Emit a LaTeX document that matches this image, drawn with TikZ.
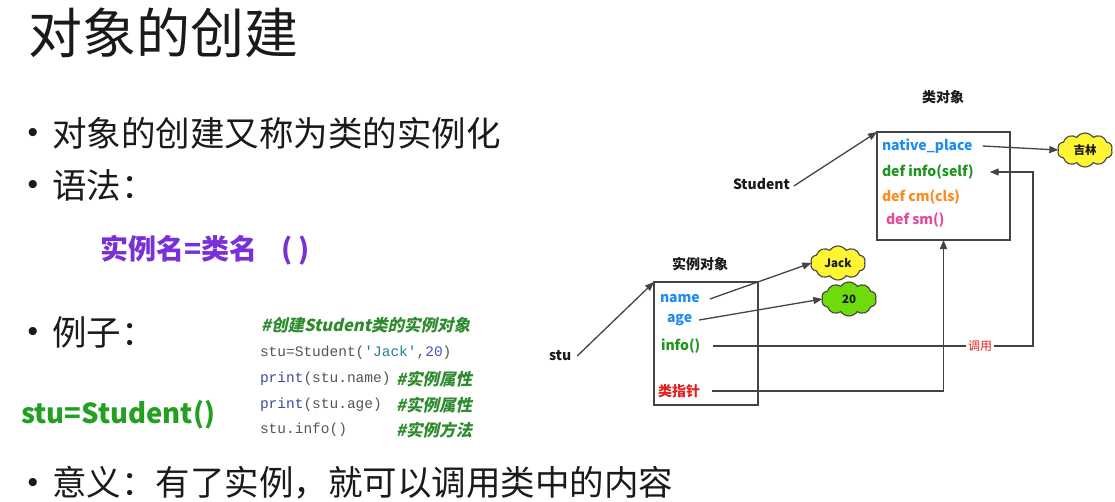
\documentclass[tikz,border=0pt]{standalone}
\usepackage{fontspec}
\setmainfont{Noto Sans CJK SC}
\newfontfamily\latinsans{Liberation Sans}
\newfontfamily\codefont{Liberation Mono}
\newfontfamily\cmtfont[FakeSlant=0.22]{Noto Sans CJK SC}
\usetikzlibrary{arrows.meta,shapes.symbols}
\definecolor{txt}{HTML}{1A1A1A}
\definecolor{purp}{HTML}{7A30D8}
\definecolor{grn}{HTML}{22A022}
\definecolor{cmtgreen}{HTML}{2E8B2E}
\definecolor{codegray}{HTML}{555555}
\definecolor{codeblue}{HTML}{3A4AA0}
\definecolor{codeteal}{HTML}{2A8090}
\definecolor{codenum}{HTML}{4A55B8}
\definecolor{dblue}{HTML}{1E8CF0}
\definecolor{dgreen}{HTML}{1C961C}
\definecolor{dorange}{HTML}{FF8A1E}
\definecolor{dpink}{HTML}{E8489A}
\definecolor{dred}{HTML}{E52020}
\definecolor{lin}{HTML}{444444}
\definecolor{cyel}{HTML}{FFF533}
\definecolor{cgrn}{HTML}{6EDC0A}
\begin{document}
\begin{tikzpicture}[x=1pt,y=-1pt,
  every node/.style={inner sep=0pt,outer sep=0pt},
  bul/.style={anchor=west,text=txt,font=\fontsize{34.5}{34.5}\selectfont},
  dot/.style={text=txt,font=\latinsans\fontsize{30}{30}\selectfont},
  code/.style={anchor=west,text=codegray,font=\codefont\fontsize{14.5}{14.5}\selectfont},
  cmt/.style={anchor=west,text=cmtgreen,font=\cmtfont\bfseries\fontsize{16.5}{16.5}\selectfont},
  dlab/.style={anchor=west,font=\bfseries\fontsize{14}{14}\selectfont},
  box/.style={draw=lin,line width=1.3pt,fill=white},
  arr/.style={draw=lin,line width=1.3pt,-{Triangle[length=9pt,width=7pt]}},
  cld/.style={cloud,cloud puffs=10,cloud puff arc=110,aspect=1.7,draw=lin,line width=1.1pt,
    minimum width=55pt,minimum height=34pt,font=\bfseries\fontsize{11.5}{11.5}\selectfont,text=txt}
]
\useasboundingbox[fill=white] (0,0) rectangle (1115,501);

% title
\node[anchor=west,text=txt,font=\fontsize{54}{54}\selectfont] (title) at (28,33) {对象的创建};

% bullets
\node[dot] (d1) at (33,135) {•};
\node[bul] (b1) at (52,133) {对象的创建又称为类的实例化};
\node[dot] (d2) at (33,187) {•};
\node[bul] (b2) at (52,185) {语法：};
\node[anchor=west,text=purp,font=\bfseries\fontsize{28}{28}\selectfont] (syn) at (100,250) {实例名=类名\hspace{24pt}(\hspace{6pt})};
\node[dot] (d3) at (33,334) {•};
\node[bul] (b3) at (52,332) {例子：};
\node[anchor=west,text=grn,font=\bfseries\fontsize{27.5}{27.5}\selectfont] (stuS) at (21,415) {stu=Student()};
\node[dot] (d4) at (33,485) {•};
\node[bul] (b4) at (52,483) {意义：有了实例，就可以调用类中的内容};

% code
\node[cmt] (c1) at (261,325) {\#创建Student类的实例对象};
\node[code] (c2) at (260,353) {stu=Student(\textcolor{codeteal}{'Jack'},\textcolor{codenum}{20})};
\node[code] (c3) at (260,379) {\textcolor{codeblue}{print}(stu.name)};
\node[cmt] (c3c) at (396,379) {\#实例属性};
\node[code] (c4) at (260,405) {\textcolor{codeblue}{print}(stu.age)};
\node[cmt] (c4c) at (396,405) {\#实例属性};
\node[code] (c5) at (260,430) {stu.info()};
\node[cmt] (c5c) at (396,430) {\#实例方法};

% class object
\node[text=txt,font=\bfseries\fontsize{14}{14}\selectfont] (clslab) at (943,97) {类对象};
\node[box,minimum width=133pt,minimum height=108pt] (clsbox) at (943.5,186) {};
\node[dlab,text=dblue] (np) at (882,146) {native\_place};
\node[dlab,text=dgreen] (dinfo) at (882,172) {def info(self)};
\node[dlab,text=dorange] (dcm) at (882,197) {def cm(cls)};
\node[dlab,text=dpink] (dsm) at (886,220) {def sm()};
\node[dlab,text=txt] (student) at (733,184) {Student};
\node[cld,fill=cyel] (jilin) at (1085,150) {吉林};

% instance object
\node[text=txt,font=\bfseries\fontsize{14}{14}\selectfont] (instlab) at (700,264) {实例对象};
\node[box,minimum width=104pt,minimum height=123pt] (inst) at (706,343.5) {};
\node[dlab,text=dblue] (nm) at (660,299) {name};
\node[dlab,text=dblue] (ag) at (667,320) {age};
\node[dlab,text=dgreen] (inf) at (661,346) {info()};
\node[dlab,text=dred] (ptr) at (658,391) {类指针};
\node[dlab,text=txt] (stu) at (549,356) {stu};
\node[cld,fill=cyel] (jack) at (838,263) {Jack};
\node[cld,fill=cgrn] (twenty) at (849,299) {20};

% connectors
\draw[arr] ([xshift=4pt,yshift=-2pt]student.east) -- (clsbox.north west);
\draw[arr] ([xshift=10pt]np.east) -- (jilin.west);
\draw[arr] ([xshift=6pt]stu.east) -- (inst.north west);
\draw[arr] ([xshift=10pt]nm.east) -- (jack.west);
\draw[arr] ([xshift=7pt]ag.east) -- (twenty.west);
\coordinate (turn) at (1033,260);
\draw[arr] ([xshift=13pt]inf.east) -| (turn) |- ([xshift=16pt]dinfo.east);
\draw[arr] ([xshift=12pt]ptr.east) -| (clsbox.south);
\node[fill=white,inner xsep=2pt,inner ysep=1pt,text=dred,font=\fontsize{12}{12}\selectfont] (call) at (980,346) {调用};
\end{tikzpicture}
\end{document}
